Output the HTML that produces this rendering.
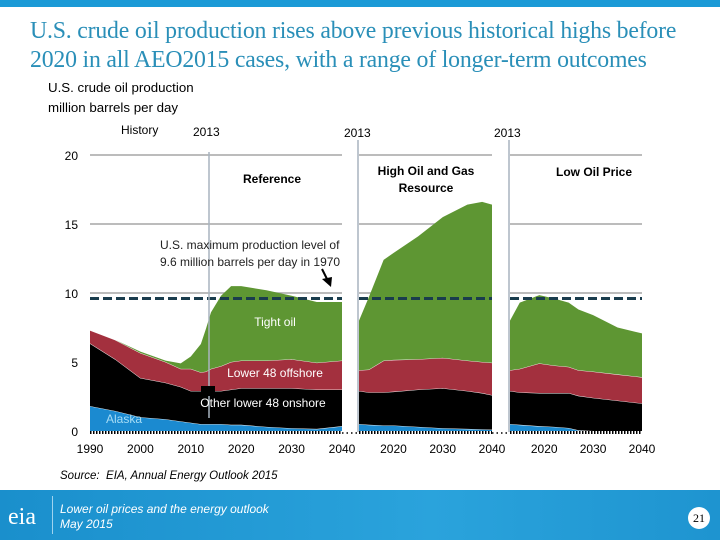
<!DOCTYPE html>
<html><head><meta charset="utf-8"><style>
body{margin:0;width:720px;height:540px;overflow:hidden;background:#fff;font-family:"Liberation Sans",sans-serif;position:relative}
.t{position:absolute;white-space:nowrap}
</style></head><body>
<div style="position:absolute;left:0;top:0;width:720px;height:7px;background:#1b9ad6"></div>
<div class="t" style="left:30px;top:17px;font-family:'Liberation Serif',serif;font-size:23.8px;line-height:29px;color:#2a8fb8;letter-spacing:-0.2px">U.S. crude oil production rises above previous historical highs before<br>2020 in all AEO2015 cases, with a range of longer-term outcomes</div>
<div class="t" style="left:48px;top:78px;font-size:13.3px;line-height:20px;color:#000">U.S. crude oil production<br>million barrels per day</div>
<svg id="chart" width="720" height="470" style="position:absolute;left:0;top:0" font-family="Liberation Sans, sans-serif"></svg>
<div class="t" style="left:60px;top:470px;font-size:11.5px;font-style:italic">Source:&nbsp; EIA, Annual Energy Outlook 2015</div>
<div style="position:absolute;left:0;top:490px;width:720px;height:50px;background:linear-gradient(90deg,#1a8fcc,#2aa3dc 60%,#1e94d0)">
 <div class="t" style="left:8px;top:14px;font-family:'Liberation Serif',serif;font-size:24px;color:#fff">eia</div>
 <div style="position:absolute;left:52px;top:6px;width:1px;height:38px;background:#9fd3ef"></div>
 <div class="t" style="left:60px;top:12px;font-size:12px;line-height:15px;font-style:italic;color:#fff">Lower oil prices and the energy outlook<br>May 2015</div>
 <div style="position:absolute;left:688px;top:17px;width:22px;height:22px;border-radius:11px;background:#fff;font-family:'Liberation Serif',serif;font-size:12px;line-height:22px;text-align:center">21</div>
</div>
<script>
// Reference case
const refYears=[1990,1995,2000,2005,2008,2010,2012,2013,2014,2016,2018,2020,2025,2030,2035,2040];
const refAlaska=[1.8,1.45,1.0,0.85,0.7,0.6,0.5,0.5,0.5,0.5,0.45,0.45,0.3,0.2,0.15,0.35];
const refOnshore=[4.55,3.75,2.84,2.65,2.5,2.3,2.4,2.4,2.4,2.4,2.55,2.65,2.8,2.9,2.85,2.65];
const refOffshore=[0.95,1.4,1.81,1.5,1.3,1.6,1.35,1.4,1.6,1.8,2.0,2.0,2.0,2.1,1.95,2.1];
const refTight=[0,0,0.1,0.1,0.4,0.9,2.05,3.1,4.1,5.1,5.5,5.4,5.1,4.6,4.4,4.25];
// High Oil and Gas Resource case
const highYears=[2013,2015,2018,2020,2025,2030,2035,2038,2040];
const highAlaska=[0.5,0.45,0.4,0.4,0.3,0.2,0.15,0.12,0.1];
const highOnshore=[2.4,2.35,2.4,2.45,2.7,2.9,2.75,2.63,2.5];
const highOffshore=[1.5,1.65,2.3,2.3,2.2,2.2,2.2,2.25,2.35];
const highTight=[3.6,5.25,7.3,7.75,8.9,10.2,11.3,11.6,11.45];
// Low Oil Price case
const lowYears=[2013,2015,2019,2022,2025,2027,2030,2035,2040];
const lowAlaska=[0.5,0.45,0.35,0.3,0.22,0.05,0,0,0];
const lowOnshore=[2.4,2.35,2.4,2.45,2.53,2.5,2.4,2.2,2.0];
const lowOffshore=[1.5,1.7,2.15,2.0,1.9,1.85,1.9,1.9,1.9];
const lowTight=[3.6,4.8,4.95,4.85,4.65,4.4,4.1,3.4,3.17];
const yTicks=[0,5,10,15,20];
const maxLevel=[9.6];

const svg=document.getElementById('chart');
const NS='http://www.w3.org/2000/svg';
function el(tag,attrs,parent){const e=document.createElementNS(NS,tag);for(const k in attrs)e.setAttribute(k,attrs[k]);(parent||svg).appendChild(e);return e;}
const y0=431,yPx=13.8;
const Y=v=>y0-v*yPx;
const panels=[
 {name:'reference',x0:90,x1:342,y0:1990,y1:2040,years:refYears,s:[refAlaska,refOnshore,refOffshore,refTight]},
 {name:'high-resource',x0:359,x1:492,y0:2013,y1:2040,years:highYears,s:[highAlaska,highOnshore,highOffshore,highTight]},
 {name:'low-price',x0:510,x1:642,y0:2013,y1:2040,years:lowYears,s:[lowAlaska,lowOnshore,lowOffshore,lowTight]}
];
const colors=['#1b8ad0','#000000','#a3303e','#5e9633'];
const layerNames=['alaska','onshore','offshore','tight-oil'];
panels.forEach(p=>{
 [10,15,20].forEach(v=>{
  const g=el('line',{x1:p.x0,x2:p.x1,y1:Y(v),y2:Y(v),stroke:'#a6a6a6','stroke-width':1.5});
  
  
 });
});
yTicks.forEach(v=>{
 const t=el('text',{x:78,y:Y(v)+5,'text-anchor':'end','font-size':12});
 t.textContent=v;
 
 
});
panels.forEach(p=>{
 const X=yr=>p.x0+(yr-p.y0)/(p.y1-p.y0)*(p.x1-p.x0);
 const cum=p.years.map(()=>0);
 p.s.forEach((vals,i)=>{
  const lower=cum.slice();
  vals.forEach((v,j)=>cum[j]+=v);
  let d='M'+p.years.map((yr,j)=>X(yr)+','+Y(cum[j])).join('L');
  for(let j=p.years.length-1;j>=0;j--)d+='L'+X(p.years[j])+','+Y(lower[j]);
  d+='Z';
  const a=el('path',{d:d,fill:colors[i]});
  
  
  if(i<3){
   const l=el('polyline',{points:p.years.map((yr,j)=>X(yr)+','+Y(cum[j])).join(' '),fill:'none',stroke:'#fff','stroke-width':0.8});
   
   
  }
 });
 const b=el('line',{x1:p.x0,x2:p.x1,y1:y0+1.5,y2:y0+1.5,stroke:'#000','stroke-width':3,'stroke-dasharray':'1.5 1.5'});
 
 
 const m=el('line',{x1:p.x0,x2:p.x1,y1:Y(maxLevel[0]),y2:Y(maxLevel[0]),stroke:'#1a3c4d','stroke-width':3,'stroke-dasharray':'9 4'});
 
 
 const labs=p.name==='reference'?[1990,2000,2010,2020,2030,2040]:[2020,2030,2040];
 labs.forEach(yr=>{
  const t=el('text',{x:X(yr),y:453,'text-anchor':'middle','font-size':12});
  t.textContent=yr;
  
  
 });
});
[[342,359],[492,510]].forEach(g=>{
 const d=el('line',{x1:g[0],x2:g[1],y1:y0+2,y2:y0+2,stroke:'#000','stroke-width':1.5,'stroke-dasharray':'1.5 3'});
 
 
});
[[209,152,418],[358,140,432],[509,140,432]].forEach(v=>{
 const l=el('line',{x1:v[0],x2:v[0],y1:v[1],y2:v[2],stroke:'#a8b4bf','stroke-width':1.5});
 
 
});
const sq=el('rect',{x:201,y:386,width:14,height:10,fill:'#000'});


function txt(x,y,s,opt,name){const t=el('text',Object.assign({x:x,y:y,'font-size':12},opt||{}));t.textContent=s;return t;}
txt(121,134,'History',{},'history-label');
txt(193,136,'2013',{},'year-2013-label');
txt(344,137,'2013',{},'year-2013-label');
txt(494,137,'2013',{},'year-2013-label');
txt(272,183,'Reference',{'font-weight':'bold','text-anchor':'middle'},'panel-title-reference');
txt(426,175,'High Oil and Gas',{'font-weight':'bold','text-anchor':'middle'},'panel-title-high');
txt(426,192,'Resource',{'font-weight':'bold','text-anchor':'middle'},'panel-title-high');
txt(594,176,'Low Oil Price',{'font-weight':'bold','text-anchor':'middle'},'panel-title-low');
txt(160,249,'U.S. maximum production level of',{fill:'#222'},'annotation');
txt(160,266,'9.6 million barrels per day in 1970',{fill:'#222'},'annotation');
const ar=el('path',{d:'M322,269 L327,279',stroke:'#000','stroke-width':2,fill:'none'});


const ah=el('path',{d:'M322,279 L332,277 L331,287 Z',fill:'#000'});


txt(275,326,'Tight oil',{fill:'#fff','text-anchor':'middle'},'tight-oil-label');
txt(275,377,'Lower 48 offshore',{fill:'#fff','text-anchor':'middle'},'offshore-label');
txt(263,407,'Other lower 48 onshore',{fill:'#fff','text-anchor':'middle'},'onshore-label');
txt(106,423,'Alaska',{fill:'#a6dcf5'},'alaska-label');
</script>
</body></html>
